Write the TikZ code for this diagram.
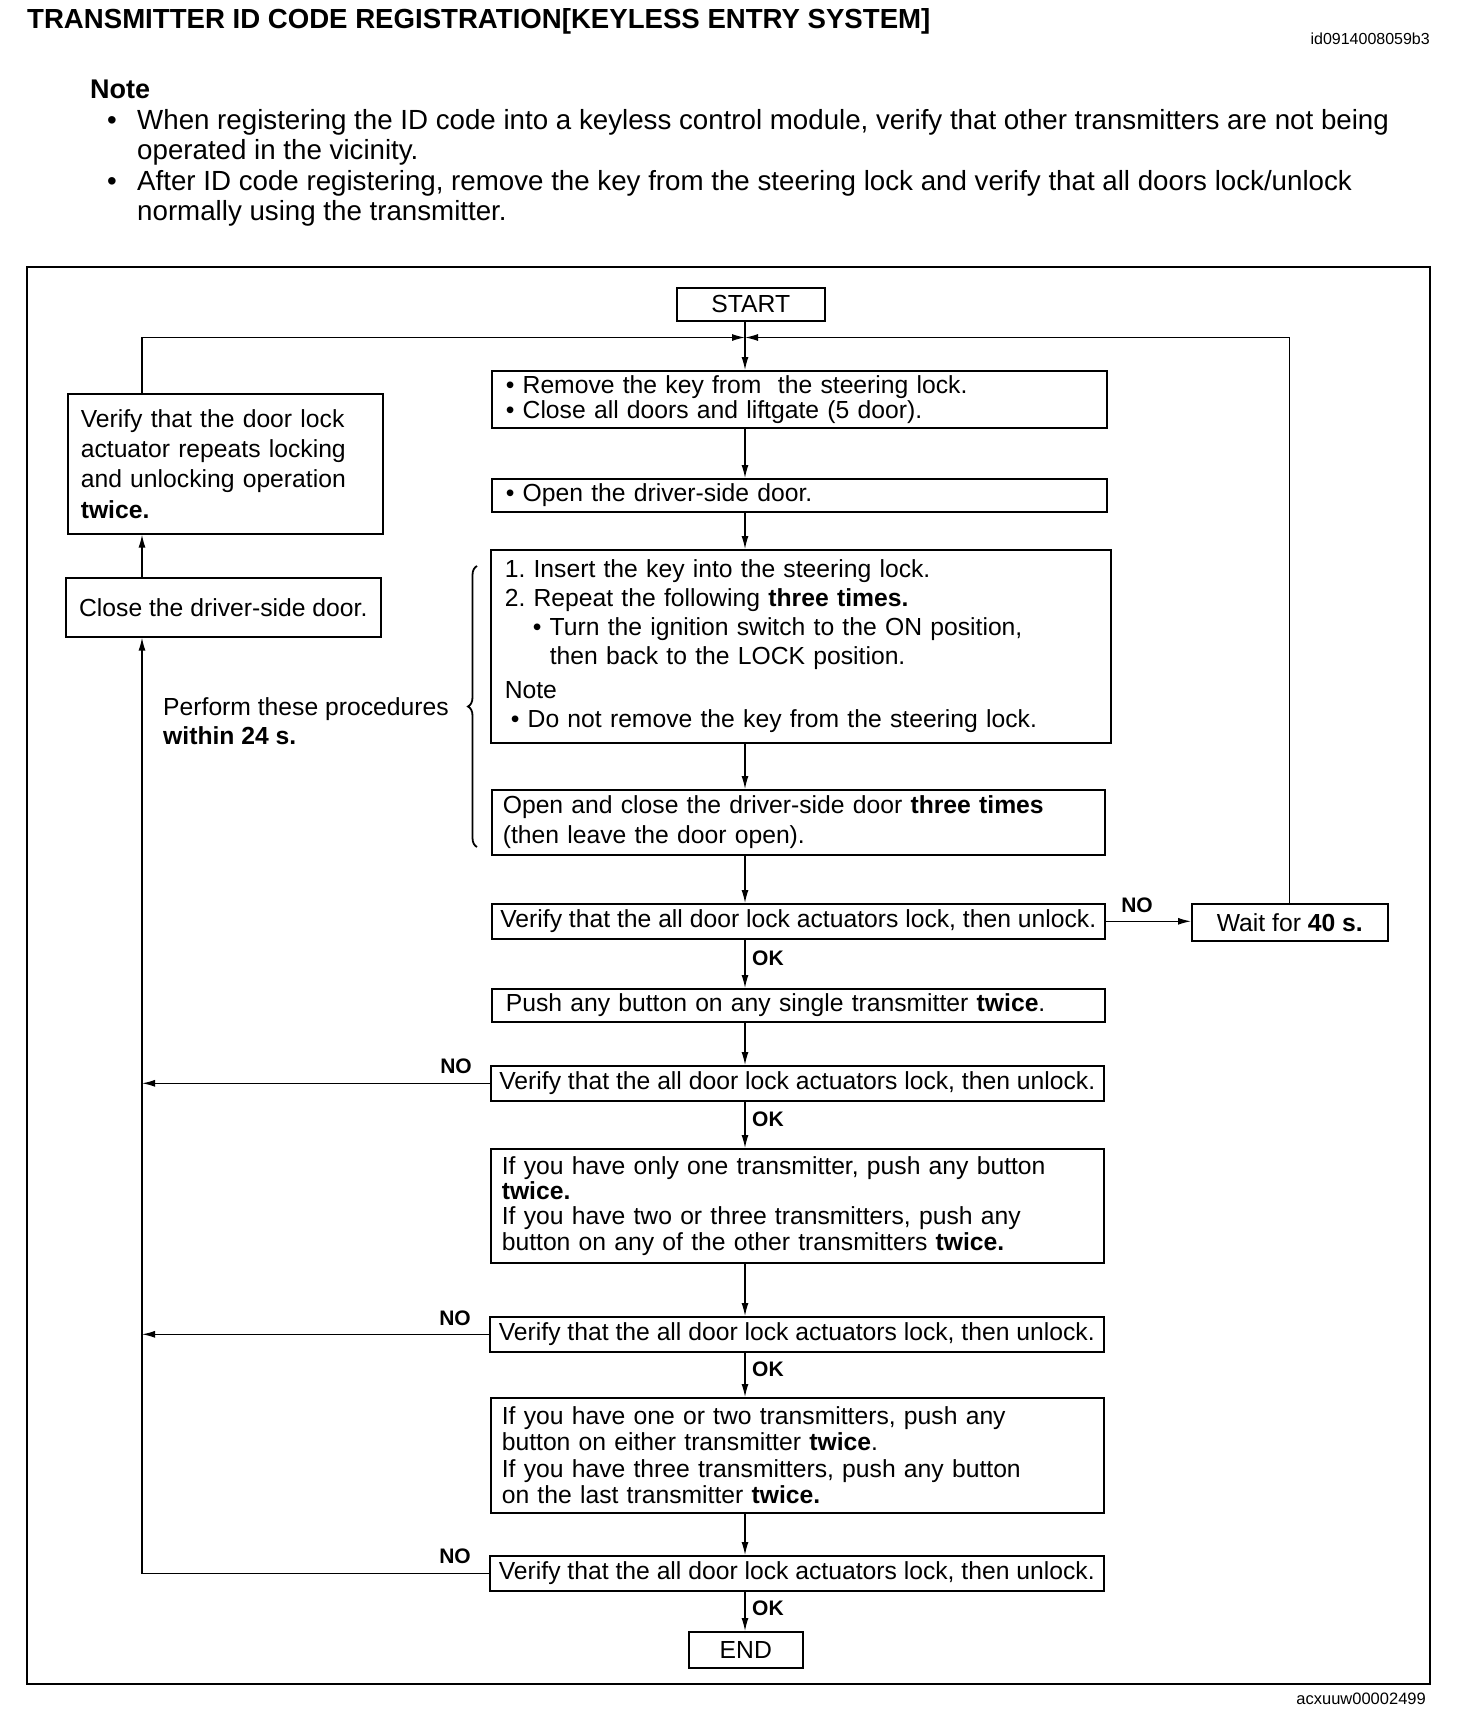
\documentclass[tikz,border=0pt]{standalone}
\usepackage{fontspec}
\setmainfont{Liberation Sans}
\usetikzlibrary{arrows.meta,decorations.pathreplacing,calc}
\newcommand\bxf[1]{\fontsize{24.7}{#1}\selectfont}
\frenchspacing
\begin{document}
\frenchspacing
\begin{tikzpicture}[x=1pt,y=-1pt,
 box/.style={draw, line width=1.6pt, align=left, inner ysep=0pt, anchor=north west},
 arr/.style={line width=1.3pt, -{Latex[length=13pt,width=7pt]}},
 ln/.style={line width=1.3pt},
 lbl/.style={font={\fontsize{21}{21}\selectfont\bfseries}, inner sep=0pt},
 top/.style={anchor=base west, inner sep=0pt, font={\fontsize{27.7}{30}\selectfont}}]

\useasboundingbox (0,0) rectangle (1456,1718);
\fill[white] (0,0) rectangle (1456,1718);

% header
\node[anchor=base west, inner sep=0pt, font={\fontsize{27.6}{30}\selectfont\bfseries}] (title) at (27,29) {TRANSMITTER ID CODE REGISTRATION[KEYLESS ENTRY SYSTEM]};
\node[anchor=base east, inner sep=0pt, font={\fontsize{16}{16}\selectfont}] (idc) at (1430,45) {id0914008059b3};
\node[anchor=base west, inner sep=0pt, font={\fontsize{27}{27}\selectfont\bfseries}] (note) at (90,99) {Note};
\node[top] (d1) at (107,129.5) {•};
\node[top] (n1) at (137,129.5) {When registering the ID code into a keyless control module, verify that other transmitters are not being};
\node[top] (n1b) at (137,160) {operated in the vicinity.};
\node[top] (d2) at (107,190) {•};
\node[top] (n2) at (137,190) {After ID code registering, remove the key from the steering lock and verify that all doors lock/unlock};
\node[top] (n2b) at (137,220.5) {normally using the transmitter.};

% frame
\draw[line width=2.2pt] (27,267) rectangle (1430,1684);
\node[anchor=base east, inner sep=0pt, font={\fontsize{16.5}{16.5}\selectfont}] (fc) at (1426,1704) {acxuuw00002499};

% main column
\node[box, align=center, font={\bxf{25}}, minimum width=148pt, minimum height=33pt] (start) at (676,287) {START};
\node[box, font={\bxf{25.2}}, minimum width=615pt, text width=587pt, inner xsep=14pt, minimum height=57pt] (b1) at (491,370)
 {• Remove the key from\ \ the steering lock.\\• Close all doors and liftgate (5 door).};
\node[box, font={\bxf{25}}, minimum width=615pt, text width=587pt, inner xsep=14pt, minimum height=33pt] (b2) at (491,478)
 {• Open the driver-side door.};
\node[box, font={\bxf{29}}, minimum width=620pt, text width=592pt, inner xsep=14pt, minimum height=193pt] (b3) at (490,549)
 {1. Insert the key into the steering lock.\\
  2. Repeat the following \textbf{three times.}\\
  \hspace*{28pt}• Turn the ignition switch to the ON position,\\
  \hspace*{45pt}then back to the LOCK position.\\[5pt]
  Note\\
  \hspace*{6pt}• Do not remove the key from the steering lock.};
\node[box, font={\bxf{29.6}}, minimum width=613pt, text width=591pt, inner xsep=11pt, minimum height=65pt] (b4) at (491,789)
 {Open and close the driver-side door \textbf{three times}\\(then leave the door open).};
\node[box, align=center, font={\bxf{25}}, minimum width=613pt, minimum height=35pt] (v1) at (491,903)
 {Verify that the all door lock actuators lock, then unlock.};
\node[box, align=center, font={\bxf{25}}, minimum width=196pt, minimum height=37pt] (wait) at (1191,903)
 {Wait for \textbf{40 s.}};
\node[box, font={\bxf{25}}, minimum width=613pt, text width=585pt, inner xsep=14pt, minimum height=33pt] (push) at (491,988)
 {Push any button on any single transmitter \textbf{twice}.};
\node[box, align=center, font={\bxf{25}}, minimum width=613pt, minimum height=35pt] (v2) at (490,1065)
 {Verify that the all door lock actuators lock, then unlock.};
\node[box, font={\bxf{25.2}}, minimum width=613pt, text width=591pt, inner xsep=11pt, minimum height=114pt] (b7) at (490,1148)
 {If you have only one transmitter, push any button\\\textbf{twice.}\\If you have two or three transmitters, push any\\button on any of the other transmitters \textbf{twice.}};
\node[box, align=center, font={\bxf{25}}, minimum width=614pt, minimum height=35pt] (v3) at (489,1316)
 {Verify that the all door lock actuators lock, then unlock.};
\node[box, font={\bxf{26.3}}, minimum width=613pt, text width=591pt, inner xsep=11pt, minimum height=115pt] (b9) at (490,1397)
 {If you have one or two transmitters, push any\\button on either transmitter \textbf{twice}.\\If you have three transmitters, push any button\\on the last transmitter \textbf{twice.}};
\node[box, align=center, font={\bxf{25}}, minimum width=614pt, minimum height=35pt] (v4) at (489,1555)
 {Verify that the all door lock actuators lock, then unlock.};
\node[box, align=center, font={\bxf{25}}, minimum width=114pt, minimum height=36pt] (end) at (688,1631) {END};

% left column
\node[box, font={\bxf{30.3}}, minimum width=315pt, text width=289pt, inner xsep=13pt, minimum height=140pt] (A) at (67,393)
 {Verify that the door lock\\actuator repeats locking\\and unlocking operation\\\textbf{twice.}};
\node[box, align=center, font={\bxf{25}}, minimum width=315pt, minimum height=59pt] (B) at (65,577)
 {Close the driver-side door.};
\node[anchor=west, align=left, inner sep=0pt, font={\bxf{29}}] (side) at (163,721.5)
 {Perform these procedures\\\textbf{within 24 s.}};
\draw[decorate, decoration={brace, amplitude=9pt}, line width=1.8pt] (477,847) -- (477,566);

% connectors
\coordinate (mx) at (745,0);
\coordinate (lx) at (142,0);
\coordinate (j) at (745,337.5);
\draw[ln] (start.south -| mx) -- (j);
\draw[arr] (j) -- (b1.north -| mx);
\draw[arr] (A.north -| lx) -- (lx |- j) -- (j);
\draw[arr] (wait.north) -- (wait.north |- j) -- (j);
\draw[arr] (b1.south -| mx) -- (b2.north -| mx);
\draw[arr] (b2.south -| mx) -- (b3.north -| mx);
\draw[arr] (b3.south -| mx) -- (b4.north -| mx);
\draw[arr] (b4.south -| mx) -- (v1.north -| mx);
\draw[arr] (v1.south -| mx) -- (push.north -| mx);
\draw[arr] (push.south -| mx) -- (v2.north -| mx);
\draw[arr] (v2.south -| mx) -- (b7.north -| mx);
\draw[arr] (b7.south -| mx) -- (v3.north -| mx);
\draw[arr] (v3.south -| mx) -- (b9.north -| mx);
\draw[arr] (b9.south -| mx) -- (v4.north -| mx);
\draw[arr] (v4.south -| mx) -- (end.north -| mx);
\draw[arr] (v1.east) -- (v1.east -| wait.west);
\draw[arr] (v2.west) -- (v2.west -| lx);
\draw[arr] (v3.west) -- (v3.west -| lx);
\draw[arr] (v4.west) -- (v4.west -| lx) -- (B.south -| lx);
\draw[arr] (B.north -| lx) -- (A.south -| lx);

% labels
\node[lbl] (no1) at (1137,905) {NO};
\node[lbl] (no2) at (456,1066) {NO};
\node[lbl] (no3) at (455,1318) {NO};
\node[lbl] (no4) at (455,1556) {NO};
\node[lbl, anchor=west] (ok1) at (752,958.6) {OK};
\node[lbl, anchor=west] (ok2) at (752,1119.7) {OK};
\node[lbl, anchor=west] (ok3) at (752,1369.5) {OK};
\node[lbl, anchor=west] (ok4) at (752,1608) {OK};
\end{tikzpicture}
\end{document}
